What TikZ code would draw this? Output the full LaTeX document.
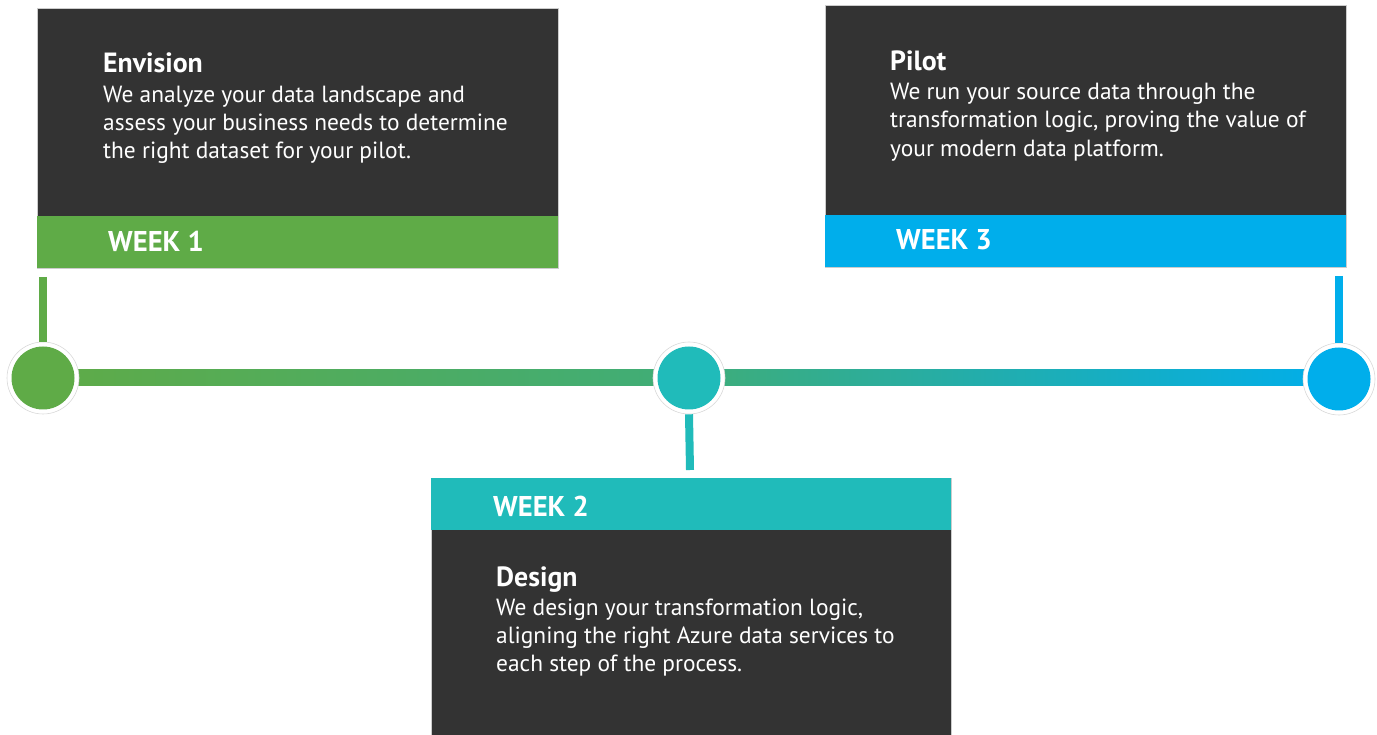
\documentclass[tikz,border=0pt]{standalone}
\usepackage{fontspec}
\setmainfont{PT Sans}
\definecolor{dark}{HTML}{333333}
\definecolor{wgreen}{HTML}{5FAB47}
\definecolor{wteal}{HTML}{20BBBA}
\definecolor{wblue}{HTML}{00AEEB}
\definecolor{wmid}{HTML}{3FAD78}
\tikzset{
  card/.style={fill=dark, draw=black!20, line width=0.8pt},
  title/.style={anchor=base west, inner sep=0pt, text=white, font=\fontsize{27.8}{30}\selectfont\bfseries},
  body/.style={anchor=base west, inner sep=0pt, text=white, font=\fontsize{23.4}{28}\selectfont},
  week/.style={anchor=base west, inner sep=0pt, text=white, font=\fontsize{28.6}{30}\selectfont\bfseries},
  ring/.style={circle, fill=white, draw=black!15, line width=0.6pt, minimum size=72pt, inner sep=0pt},
  dot/.style={circle, minimum size=63pt, inner sep=0pt},
  stem/.style={line width=8pt},
}
\begin{document}
\begin{tikzpicture}[x=1pt,y=-1pt]
\useasboundingbox (0,0) rectangle (1377,735);
% timeline bar
\shade[left color=wgreen, right color=wmid] (43,370) rectangle (689,386);
\shade[left color=wmid, right color=wblue] (689,370) rectangle (1339,386);
% circles
\node[ring] (r1) at (43,378) {};
\node[dot, fill=wgreen] (c1) at (43,378) {};
\node[ring] (r2) at (689,378) {};
\node[dot, fill=wteal] (c2) at (689,378) {};
\node[ring] (r3) at (1339,379) {};
\node[dot, fill=wblue] (c3) at (1339,379) {};
% card 1
\draw[card] (37,8) rectangle (558,268);
\fill[wgreen] (37,216) rectangle (558,268);
\coordinate (s1) at (43,277);
\draw[stem, wgreen] (s1) -- (r1.north);
\node[title] (t1) at (103,73) {Envision};
\node[body] (b1a) at (103,103) {We analyze your data landscape and};
\node[body] (b1b) at (103,131) {assess your business needs to determine};
\node[body] (b1c) at (103,159) {the right dataset for your pilot.};
\node[week] (w1) at (108,252) {WEEK 1};
% card 3
\draw[card] (825,5) rectangle (1346,267);
\fill[wblue] (825,215) rectangle (1346,267);
\coordinate (s3) at (1339,276);
\draw[stem, wblue] (s3) -- (r3.north);
\node[title] (t3) at (890,71) {Pilot};
\node[body] (b3a) at (890,100) {We run your source data through the};
\node[body] (b3b) at (890,128) {transformation logic, proving the value of};
\node[body] (b3c) at (890,157) {your modern data platform.};
\node[week] (w3) at (896,250) {WEEK 3};
% card 2
\draw[card] (431,478) rectangle (951,740);
\fill[wteal] (431,478) rectangle (951,530);
\coordinate (s2) at (690,470);
\draw[stem, wteal] (r2.south) -- (s2);
\node[week] (w2) at (493,516) {WEEK 2};
\node[title] (t2) at (496,586) {Design};
\node[body] (b2a) at (496,615) {We design your transformation logic,};
\node[body] (b2b) at (496,643) {aligning the right Azure data services to};
\node[body] (b2c) at (496,671) {each step of the process.};
\end{tikzpicture}
\end{document}
